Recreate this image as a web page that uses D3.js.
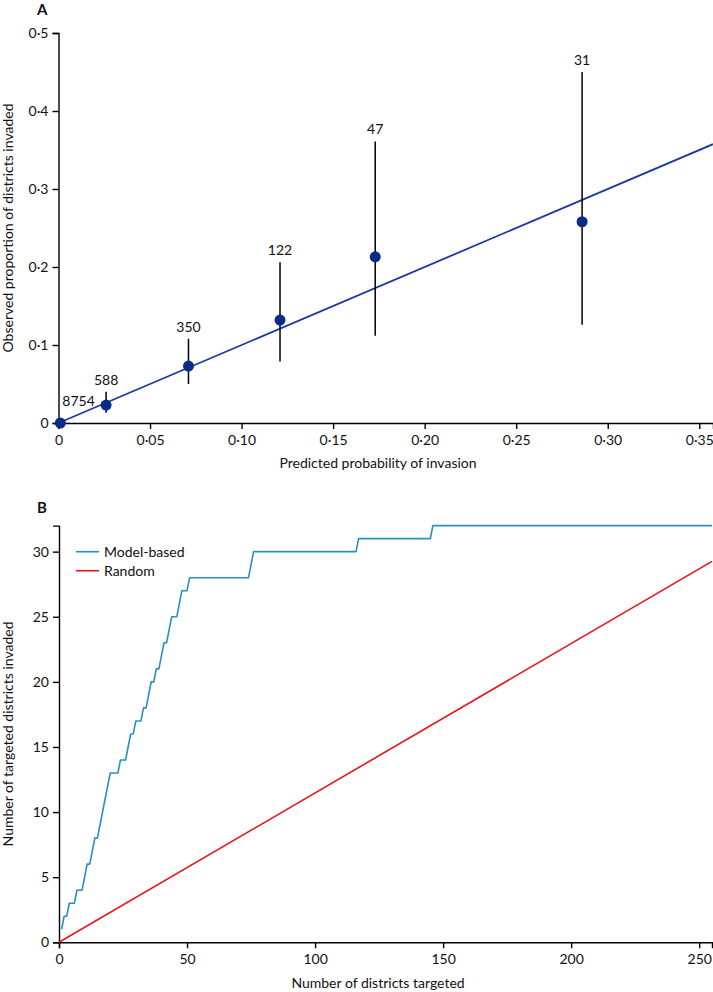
<!DOCTYPE html>
<html>
<head>
<meta charset="utf-8">
<script src="https://cdn.jsdelivr.net/npm/d3@7"></script>
<style>
  html, body { margin: 0; padding: 0; background: #fff; }
  svg { display: block; font-family: Lato, "Open Sans", sans-serif; }
</style>
</head>
<body>
<svg id="chart" width="713" height="992"></svg>
<script>
// ---------- Panel A data ----------
const predicted = [0.001, 0.026, 0.071, 0.121, 0.173, 0.286];
const observed  = [0.0, 0.023, 0.073, 0.132, 0.213, 0.258];
const ciLow     = [0.0, 0.013, 0.050, 0.079, 0.112, 0.126];
const ciHigh    = [0.0, 0.040, 0.108, 0.206, 0.361, 0.450];
const binCounts = ["8754", "588", "350", "122", "47", "31"];
const xTicksA = [0, 0.05, 0.10, 0.15, 0.20, 0.25, 0.30, 0.35];
const xTickLabelsA = ["0", "0·05", "0·10", "0·15", "0·20", "0·25", "0·30", "0·35"];
const yTicksA = [0, 0.1, 0.2, 0.3, 0.4, 0.5];
const yTickLabelsA = ["0", "0·1", "0·2", "0·3", "0·4", "0·5"];
const identityLine = [0, 0.3575];

// ---------- Panel B data ----------
const modelX = [1, 2, 3, 4, 6, 7, 9, 11, 12, 14, 15, 20, 23, 24, 26, 28, 29, 30, 32, 33, 34, 36, 37, 38, 39, 41, 42, 44, 46, 48, 50, 51, 74, 76, 116, 117, 145, 146, 255];
const modelY = [1, 2, 2, 3, 3, 4, 4, 6, 6, 8, 8, 13, 13, 14, 14, 16, 16, 17, 17, 18, 18, 20, 20, 21, 21, 23, 23, 25, 25, 27, 27, 28, 28, 30, 30, 31, 31, 32, 32];
const randomX = [0, 255];
const randomY = [0, 29.25];
const xTicksB = [0, 50, 100, 150, 200, 250];
const yTicksB = [0, 5, 10, 15, 20, 25, 30];
const legendLabels = ["Model-based", "Random"];

const navy = "#0c2a88";
const fitColor = "#1b3a9b";
const blue = "#2a8fc1";
const red = "#e8141b";

const svg = d3.select("#chart");

function styleAxis(g) {
  g.selectAll(".domain").attr("stroke", "#000").attr("stroke-width", 1.4);
  g.selectAll(".tick line").attr("stroke", "#000").attr("stroke-width", 1.4);
  g.selectAll(".tick text").attr("fill", "#111").style("font-size", "14px").style("font-family", "Lato, sans-serif");
}

// ================= Panel A =================
const xA = d3.scaleLinear().domain([0, 0.3575]).range([58.5, 713]);
const yA = d3.scaleLinear().domain([0, 0.5]).range([423, 33]);

svg.append("text").attr("x", 37).attr("y", 15).text("A")
  .style("font-weight", "bold").style("font-size", "15px").attr("fill", "#111");

const gxA = svg.append("g").attr("transform", `translate(0,${yA(0)})`)
  .call(d3.axisBottom(xA).tickValues(xTicksA).tickSizeOuter(0).tickSize(6).tickPadding(6)
    .tickFormat((d, i) => xTickLabelsA[i]));
styleAxis(gxA);

const gyA = svg.append("g").attr("transform", `translate(${xA(0)},0)`)
  .call(d3.axisLeft(yA).tickValues(yTicksA).tickSizeOuter(0).tickSize(6).tickPadding(4)
    .tickFormat((d, i) => yTickLabelsA[i]));
styleAxis(gyA);

svg.append("text").attr("x", 378).attr("y", 468).attr("text-anchor", "middle")
  .style("font-size", "14px").attr("fill", "#111").text("Predicted probability of invasion");
svg.append("text").attr("transform", `translate(13,${yA(0.25)}) rotate(-90)`).attr("text-anchor", "middle")
  .style("font-size", "14px").attr("fill", "#111").text("Observed proportion of districts invaded");

// identity (calibration) line
svg.append("line")
  .attr("x1", xA(identityLine[0])).attr("y1", yA(identityLine[0]))
  .attr("x2", xA(identityLine[1])).attr("y2", yA(identityLine[1]))
  .attr("stroke", fitColor).attr("stroke-width", 1.8);

const ptsA = predicted.map((p, i) => ({p, o: observed[i], lo: ciLow[i], hi: ciHigh[i], n: binCounts[i]}));

svg.append("g").selectAll("line").data(ptsA.filter(d => d.hi > d.lo)).join("line")
  .attr("x1", d => xA(d.p)).attr("x2", d => xA(d.p))
  .attr("y1", d => yA(d.lo)).attr("y2", d => yA(d.hi))
  .attr("stroke", "#000").attr("stroke-width", 1.5);

svg.append("g").selectAll("circle").data(ptsA).join("circle")
  .attr("cx", d => xA(d.p)).attr("cy", d => yA(d.o)).attr("r", 5.5)
  .attr("fill", navy);

svg.append("g").selectAll("text").data(ptsA).join("text")
  .attr("x", (d, i) => i === 0 ? xA(d.p) + 2 : xA(d.p))
  .attr("y", (d, i) => i === 0 ? yA(d.hi) - 17 : yA(d.hi) - 7)
  .attr("text-anchor", (d, i) => i === 0 ? "start" : "middle")
  .style("font-size", "14px").attr("fill", "#111")
  .text(d => d.n);

// ================= Panel B =================
const xB = d3.scaleLinear().domain([0, 255]).range([59, 712]);
const yB = d3.scaleLinear().domain([0, 32]).range([942.3, 525.6]);

svg.append("text").attr("x", 37).attr("y", 513).text("B")
  .style("font-weight", "bold").style("font-size", "15px").attr("fill", "#111");

const gxB = svg.append("g").attr("transform", `translate(0,${yB(0)})`)
  .call(d3.axisBottom(xB).tickValues(xTicksB).tickSizeOuter(0).tickSize(6).tickPadding(6)
    .tickFormat(d3.format("d")));
styleAxis(gxB);

const gyB = svg.append("g").attr("transform", `translate(${xB(0)},0)`)
  .call(d3.axisLeft(yB).tickValues(yTicksB).tickSizeOuter(0).tickSize(6).tickPadding(4)
    .tickFormat(d3.format("d")));
styleAxis(gyB);

svg.append("text").attr("x", 378).attr("y", 988).attr("text-anchor", "middle")
  .style("font-size", "14px").attr("fill", "#111").text("Number of districts targeted");
svg.append("text").attr("transform", `translate(13,${(yB(0) + yB(32)) / 2}) rotate(-90)`).attr("text-anchor", "middle")
  .style("font-size", "14px").attr("fill", "#111").text("Number of targeted districts invaded");

const lineB = d3.line().x(d => xB(d[0])).y(d => yB(d[1]));

svg.append("path").datum(randomX.map((x, i) => [x, randomY[i]]))
  .attr("d", lineB).attr("fill", "none").attr("stroke", red).attr("stroke-width", 1.6);

svg.append("path").datum(modelX.map((x, i) => [x, modelY[i]]))
  .attr("d", lineB).attr("fill", "none").attr("stroke", blue).attr("stroke-width", 1.6)
  .attr("stroke-linejoin", "round");

// legend
const legColors = [blue, red];
const leg = svg.append("g");
legendLabels.forEach((lab, i) => {
  const y = 551.7 + i * 19;
  leg.append("line").attr("x1", 76).attr("x2", 99).attr("y1", y).attr("y2", y)
    .attr("stroke", legColors[i]).attr("stroke-width", 1.6);
  leg.append("text").attr("x", 104).attr("y", y).attr("dy", "0.35em")
    .style("font-size", "14px").attr("fill", "#111").text(lab);
});
</script>
</body>
</html>
